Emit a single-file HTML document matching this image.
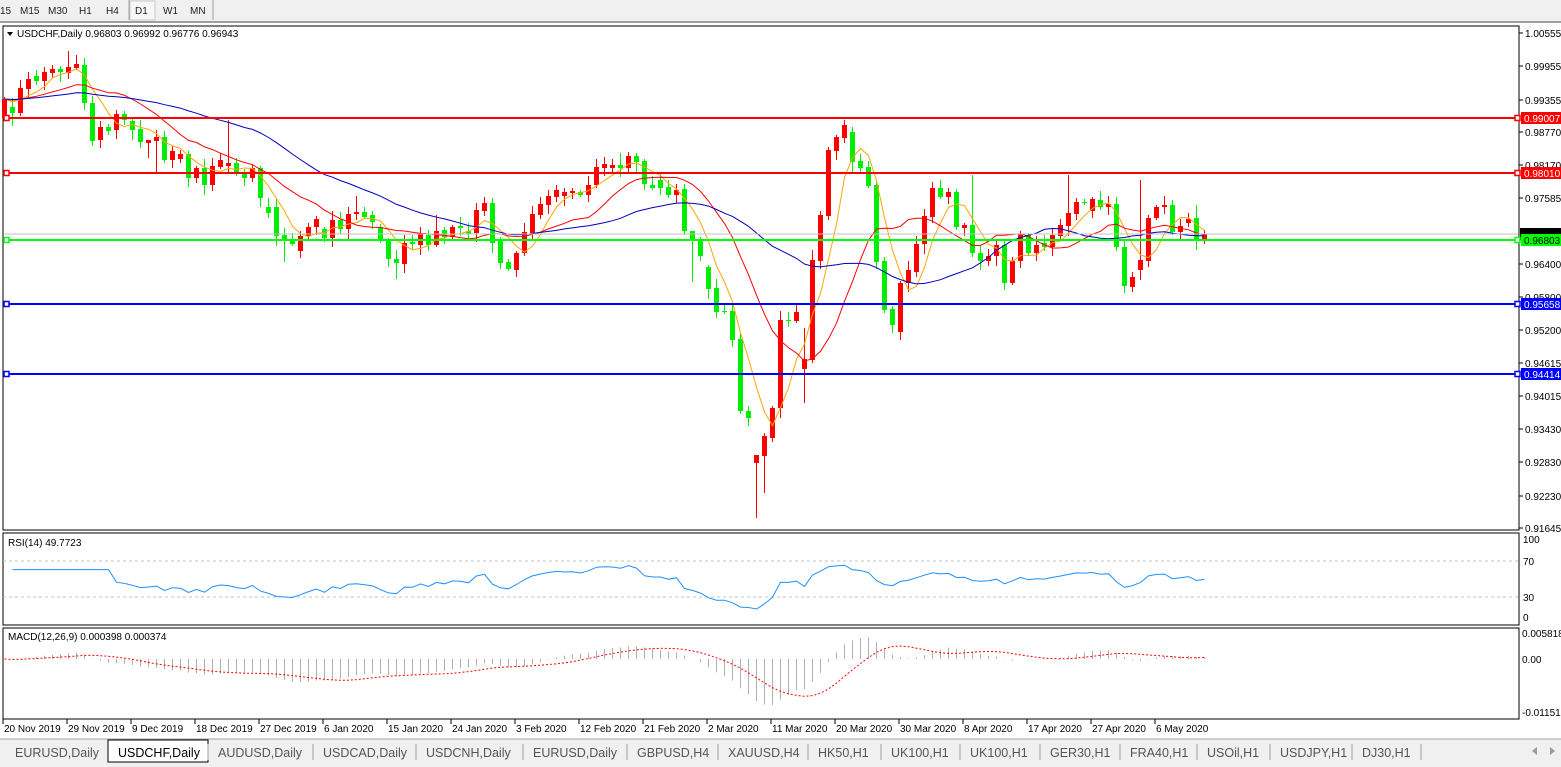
<!DOCTYPE html>
<html><head><meta charset="utf-8"><style>
body{margin:0;width:1561px;height:767px;background:#fff;overflow:hidden;font-family:"Liberation Sans",sans-serif;position:relative}
svg{position:absolute;left:0;top:0}
</style></head><body>
<svg id="s" width="1561" height="767" xmlns="http://www.w3.org/2000/svg" font-family="Liberation Sans, sans-serif" font-size="10">
<rect x="0" y="0" width="1561" height="22" fill="#f0f0f0"/>
<line x1="0" y1="22" x2="1561" y2="22" stroke="#a0a0a0" stroke-width="2"/>
<rect x="130" y="1" width="25" height="19" fill="#f7f7f7" stroke="#c8c8c8"/>
<line x1="129" y1="0" x2="129" y2="20" stroke="#a0a0a0"/><line x1="213" y1="0" x2="213" y2="20" stroke="#a0a0a0"/>
<g font-size="10" fill="#222"><text x="0" y="14">15</text><text x="20" y="14">M15</text><text x="48" y="14">M30</text><text x="79" y="14">H1</text><text x="106" y="14">H4</text><text x="135" y="14">D1</text><text x="163" y="14">W1</text><text x="190" y="14">MN</text></g>
<rect x="3" y="26" width="1516" height="504" fill="none" stroke="#000"/>
<rect x="3" y="533" width="1516" height="92" fill="none" stroke="#000"/>
<rect x="3" y="628" width="1516" height="91" fill="none" stroke="#000"/>
<line x1="3" y1="561" x2="1519" y2="561" stroke="#c0c0c0" stroke-dasharray="3,3"/>
<line x1="3" y1="597" x2="1519" y2="597" stroke="#c0c0c0" stroke-dasharray="3,3"/>
<g id="g"></g>
<path d="M7 32 L13 32 L10 36 Z" fill="#000"/>
<text x="17" y="37" font-size="10">USDCHF,Daily  0.96803 0.96992 0.96776 0.96943</text>
<text x="8" y="546" font-size="10">RSI(14) 49.7723</text>
<text x="8" y="640" font-size="10">MACD(12,26,9) 0.000398 0.000374</text>
<g font-size="10"><text x="1523" y="543">100</text><text x="1523" y="565">70</text><text x="1523" y="601">30</text><text x="1523" y="621">0</text>
<text x="1522" y="637">0.005818</text><text x="1522" y="663">0.00</text><text x="1522" y="716">-0.01151</text></g>
<rect x="0" y="739" width="1561" height="28" fill="#f0f0f0"/>
<line x1="0" y1="739" x2="1561" y2="739" stroke="#a0a0a0"/>
<rect x="108" y="740" width="100" height="22" fill="#fff" stroke="#000"/>
<g font-size="12.5" fill="#555" id="tabs"></g>
<g fill="#999"><path d="M1532 751 L1537 747 L1537 755Z"/><path d="M1555 751 L1550 747 L1550 755Z"/></g>
</svg>
<script>
(function(){
var NS="http://www.w3.org/2000/svg",G=document.getElementById('g');
function el(t,a,p){var e=document.createElementNS(NS,t);for(var k in a)e.setAttribute(k,a[k]);(p||G).appendChild(e);return e;}
var B=[['r',99,118],['g',107,113],['r',88,113],['r',79,89],['g',76,81],['r',72,81],['r',69,73],['g',69,72],['r',67,73],['r',64,68],
['g',65,103],['g',103,141],['r',127,140],['g',127,131],['r',114,130],['g',114,120],['g',121,130],['g',129,142],['r',140,143],['r',137,141],
['g',137,160],['r',151,160],['r',154,159],['g',154,178],['r',168,178],['g',168,185],['r',166,185],['r',160,167],['r',163,166],['g',163,173],
['g',173,178],['r',168,178],['g',168,198],['g',207,213],['g',207,236],['g',235,240],['g',239,244],['r',236,251],['r',227,236],['r',219,227],
['g',229,238],['r',220,238],['g',220,229],['r',214,229],['r',212,214],['g',212,217],['g',215,222],['g',227,240],['g',240,259],['g',259,263],
['r',243,264],['g',242,244],['r',233,245],['g',235,245],['r',231,245],['g',230,237],['r',227,237],['g',226,228],['g',231,234],['r',210,233],
['r',203,211],['g',203,243],['g',241,263],['g',262,269],['r',253,270],['r',232,253],['r',214,233],['r',204,215],['r',196,205],['r',190,197],
['r',192,196],['r',191,193],['g',192,195],['r',185,195],['r',167,185],['r',164,168],['r',165,168],['g',165,168],['r',156,168],['g',156,162],
['g',161,184],['g',185,188],['g',180,188],['g',187,195],['r',190,195],['g',189,231],['g',231,241],['g',240,256],['g',267,289],['g',288,312],
['g',311,312],['g',311,340],['g',339,411],['g',411,418],['r',455,463],['r',436,456],['r',408,438],['r',320,408],['g',320,321],['r',312,321],
['r',359,369],['r',260,360],['r',215,261],['r',150,216],['r',137,151],['r',125,138],['g',132,162],['g',161,168],['g',167,186],['g',185,262],
['g',261,310],['g',309,325],['r',283,332],['r',270,283],['r',244,272],['r',216,244],['r',188,217],['g',188,197],['r',192,197],['g',192,227],
['r',225,228],['g',225,253],['g',253,261],['r',256,261],['r',245,256],['g',245,283],['r',261,283],['r',234,261],['g',235,253],['r',245,253],
['g',243,247],['r',235,247],['r',225,236],['r',213,226],['r',202,214],['g',202,203],['r',199,211],['g',200,207],['r',204,207],['g',204,247],
['g',247,286],['r',277,287],['r',260,270],['r',218,261],['r',207,218],['r',205,207],['g',205,232],['r',226,232],['r',219,223],['g',218,241],['r',234,239]];
var HO={8:51,10:58,13:124,18:140,28:120,44:196,54:215,77:153,86:231,94:455,100:328,101:250,105:120,106:127,109:180,117:180,121:175,133:175,142:180,146:200,149:205};
var LO={1:126,11:146,18:158,19:172,35:262,49:279,86:282,94:518,95:493,96:442,100:403,112:340,140:293,125:290};
function P(y){return 1.00555-(y-33)/5555.6;}
function Y(p){return 33+(1.00555-p)*5555.6;}
var C=[],n=B.length,i,k,x,d;
for(i=0;i<n;i++){var b=B[i];x=4+8*i;var col=b[0]=='r'?'#ff0000':'#00ee00';
 var bt=b[1],bb=Math.max(b[2],b[1]+1);
 var hi=HO[i]!==undefined?HO[i]:bt-(2+(i*7)%8),lo=LO[i]!==undefined?LO[i]:bb+(2+(i*5)%9);
 el('line',{x1:x+.5,y1:hi,x2:x+.5,y2:lo,stroke:col});
 el('rect',{x:x-2,y:bt,width:5,height:bb-bt,fill:col});
 C.push(P(b[0]=='r'?bt:bb));}
function sma(N){var o=[];for(var i=0;i<n;i++){var s=0;for(var k=i-N+1;k<=i;k++)s+=C[Math.max(k,0)];o.push(s/N);}return o;}
function pline(a,col,w,yf){var dd='';for(var i=0;i<n;i++)dd+=(i?'L':'M')+(4.5+8*i)+' '+yf(a[i]).toFixed(1);el('path',{d:dd,fill:'none',stroke:col,'stroke-width':w||1});}
pline(sma(5),'#ffa500',1,Y);pline(sma(13),'#ff0000',1,Y);pline(sma(30),'#0000c0',1,Y);
el('line',{x1:4,y1:234,x2:1518,y2:234,stroke:'#c0c0c0'});
var HL=[[118,'#ff0000','0.99007'],[173,'#ff0000','0.98010'],[240,'#00ff00','0.96803'],[304,'#0000ff','0.95658'],[374,'#0000ff','0.94414']];
var tk=[[33,'1.00555'],[66,'0.99955'],[100,'0.99355'],[132,'0.98770'],[165,'0.98170'],[198,'0.97585'],[264,'0.96400'],[297,'0.95800'],[330,'0.95200'],[363,'0.94615'],[396,'0.94015'],[429,'0.93430'],[462,'0.92830'],[496,'0.92230'],[528,'0.91645']];
tk.forEach(function(t){el('line',{x1:1519,y1:t[0],x2:1523,y2:t[0],stroke:'#000'});el('text',{x:1525,y:t[0]+4,'font-size':10}).textContent=t[1];});
el('rect',{x:1520,y:228,width:41,height:12,fill:'#000'});
HL.forEach(function(h){el('line',{x1:4,y1:h[0],x2:1518,y2:h[0],stroke:h[1],'stroke-width':2});
 el('rect',{x:4,y:h[0]-2.5,width:5,height:5,fill:'#fff',stroke:h[1],'stroke-width':1.5});
 el('rect',{x:1515,y:h[0]-2.5,width:5,height:5,fill:'#fff',stroke:h[1],'stroke-width':1.5});
 el('rect',{x:1521,y:h[0]-6,width:40,height:12,fill:h[1]});
 el('text',{x:1524,y:h[0]+4,'font-size':10,fill:h[1]=='#00ff00'?'#000':'#fff'}).textContent=h[2];});
// RSI
var R=[],ag=0,al=0;for(i=1;i<n;i++){var df=C[i]-C[i-1],g=Math.max(df,0),l=Math.max(-df,0);if(i<=14){ag+=g/14;al+=l/14;}else{ag=(ag*13+g)/14;al=(al*13+l)/14;}R.push(i<14?null:100-100/(1+ag/(al||1e-9)));}
d='';for(i=0;i<R.length;i++){var v=R[i];if(v===null)v=62;d+=(d?'L':'M')+(12.5+8*i)+' '+(618-v*0.78).toFixed(1);}
el('path',{d:d,fill:'none',stroke:'#1e90ff'});
// MACD
function ema(a,N){var kk=2/(N+1),o=[a[0]];for(var j=1;j<a.length;j++)o.push(a[j]*kk+o[j-1]*(1-kk));return o;}
var e12=ema(C,12),e26=ema(C,26),M=[];for(i=0;i<n;i++)M.push(e12[i]-e26[i]);
var S=[];for(i=0;i<n;i++){var t=0,c=0;for(k=Math.max(0,i-8);k<=i;k++){t+=M[k];c++;}S.push(t/c);}
function MY(v){return 659-v*4297;}
for(i=0;i<n;i++){x=4.5+8*i;el('line',{x1:x,y1:659,x2:x,y2:Math.max(631,Math.min(717,MY(M[i]))),stroke:'#b0b0b0'});}
d='';for(i=0;i<n;i++)d+=(i?'L':'M')+(4.5+8*i)+' '+MY(S[i]).toFixed(1);el('path',{d:d,fill:'none',stroke:'#ff0000','stroke-dasharray':'2,2'});
var D=['20 Nov 2019','29 Nov 2019','9 Dec 2019','18 Dec 2019','27 Dec 2019','6 Jan 2020','15 Jan 2020','24 Jan 2020','3 Feb 2020','12 Feb 2020','21 Feb 2020','2 Mar 2020','11 Mar 2020','20 Mar 2020','30 Mar 2020','8 Apr 2020','17 Apr 2020','27 Apr 2020','6 May 2020'];
D.forEach(function(t,j){var xx=3+64*j;el('line',{x1:xx,y1:719,x2:xx,y2:724,stroke:'#000'});el('text',{x:xx+1,y:732,'font-size':10}).textContent=t;});
var T=[[15,'EURUSD,Daily'],[118,'USDCHF,Daily'],[218,'AUDUSD,Daily'],[323,'USDCAD,Daily'],[426,'USDCNH,Daily'],[533,'EURUSD,Daily'],[637,'GBPUSD,H4'],[728,'XAUUSD,H4'],[818,'HK50,H1'],[891,'UK100,H1'],[970,'UK100,H1'],[1050,'GER30,H1'],[1130,'FRA40,H1'],[1207,'USOil,H1'],[1280,'USDJPY,H1'],[1362,'DJ30,H1']];
var tg=document.getElementById('tabs');
T.forEach(function(t,j){el('text',{x:t[0],y:757,fill:j==1?'#000':'#555'},tg).textContent=t[1];
 if(j>1){el('line',{x1:t[0]-10,y1:744,x2:t[0]-10,y2:760,stroke:'#a0a0a0'},tg);}});
el('line',{x1:1421,y1:744,x2:1421,y2:760,stroke:'#a0a0a0'},tg);
})();
</script>
</body></html>
